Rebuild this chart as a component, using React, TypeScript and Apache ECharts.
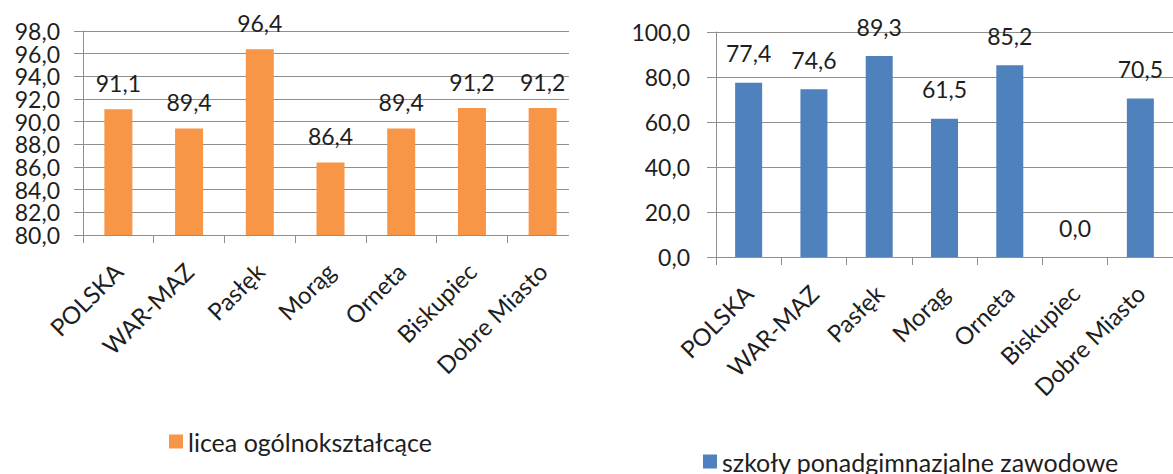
import React, { useEffect, useRef } from "react";
import * as echarts from "echarts";

const categories = ["POLSKA", "WAR-MAZ", "Pasłęk", "Morąg", "Orneta", "Biskupiec", "Dobre Miasto"];
const liceaValues = [91.1, 89.4, 96.4, 86.4, 89.4, 91.2, 91.2];
const zawodoweValues = [77.4, 74.6, 89.3, 61.5, 85.2, 0.0, 70.5];
const liceaName = "licea ogólnokształcące";
const zawodoweName = "szkoły ponadgimnazjalne zawodowe";
// left value axis: min, max, step
const liceaAxis = [80, 98, 2];
// right value axis: min, max, step
const zawodoweAxis = [0, 100, 20];

const FONT = "Lato, 'Open Sans', sans-serif";
const TEXT = "#1e1e1e";
const GRID = "#8f8f8f";
const fmt = (v: number) => v.toFixed(1).replace(".", ",");

export default function App() {
  const ref = useRef<HTMLDivElement>(null);
  useEffect(() => {
    if (!ref.current) return;
    const chart = echarts.init(ref.current, undefined, { renderer: "svg" });
    const xAxisCommon = (gridIndex: number) => ({
      type: "category" as const,
      gridIndex,
      data: categories,
      boundaryGap: true,
      axisLine: { show: true, lineStyle: { color: GRID, width: 1 } },
      axisTick: { show: true, length: 8, lineStyle: { color: GRID } },
      axisLabel: {
        rotate: 45,
        margin: 32,
        interval: 0,
        color: TEXT,
        fontFamily: FONT,
        fontSize: 24,
      },
    });
    const labelStyle = { color: TEXT, fontFamily: FONT, fontSize: 23 };
    const [lMin, lMax, lStep] = liceaAxis;
    const [rMin, rMax, rStep] = zawodoweAxis;
    // the values next to min/max on the left axis are drawn by a second, overlaid axis
    const nearEnds = (v: number) =>
      Math.abs(v - (lMin + lStep)) < 1e-6 || Math.abs(v - (lMax - lStep)) < 1e-6;
    chart.setOption({
      animation: false,
      backgroundColor: "#ffffff",
      grid: [
        { left: 83, top: 31, width: 495, height: 204 },
        { left: 716, top: 32, width: 463, height: 225 },
      ],
      xAxis: [xAxisCommon(0), xAxisCommon(1)],
      yAxis: [
        {
          type: "value",
          gridIndex: 0,
          min: lMin,
          max: lMax,
          interval: lStep,
          axisLine: { show: true, lineStyle: { color: GRID, width: 1 } },
          axisTick: { show: true, length: 9, lineStyle: { color: GRID } },
          splitLine: { show: true, lineStyle: { color: GRID, width: 1 } },
          axisLabel: {
            ...labelStyle,
            margin: 23,
            showMinLabel: true,
            showMaxLabel: true,
            formatter: (v: number) => (nearEnds(v) ? "" : fmt(v)),
          },
        },
        {
          type: "value",
          gridIndex: 0,
          position: "left",
          min: lMin,
          max: lMax,
          interval: lStep,
          axisLine: { show: false },
          axisTick: { show: true, length: 9, lineStyle: { color: GRID } },
          splitLine: { show: false },
          axisLabel: {
            ...labelStyle,
            margin: 23,
            showMinLabel: false,
            showMaxLabel: false,
            formatter: (v: number) => (nearEnds(v) ? fmt(v) : ""),
          },
        },
        {
          type: "value",
          gridIndex: 1,
          min: rMin,
          max: rMax,
          interval: rStep,
          axisLine: { show: true, lineStyle: { color: GRID, width: 1 } },
          axisTick: { show: true, length: 9, lineStyle: { color: GRID } },
          splitLine: { show: true, lineStyle: { color: GRID, width: 1 } },
          axisLabel: {
            ...labelStyle,
            margin: 26,
            showMinLabel: true,
            showMaxLabel: true,
            formatter: (v: number) => fmt(v),
          },
        },
      ],
      legend: [
        {
          data: [liceaName],
          left: 164,
          top: 424,
          icon: "rect",
          itemWidth: 14,
          itemHeight: 14,
          textStyle: { color: TEXT, fontFamily: FONT, fontSize: 25 },
        },
        {
          data: [zawodoweName],
          left: 698,
          top: 444,
          icon: "rect",
          itemWidth: 14,
          itemHeight: 14,
          textStyle: { color: TEXT, fontFamily: FONT, fontSize: 25 },
        },
      ],
      series: [
        {
          name: liceaName,
          type: "bar",
          xAxisIndex: 0,
          yAxisIndex: 0,
          data: liceaValues,
          barWidth: 28,
          itemStyle: { color: "#F79646" },
          label: {
            show: true,
            position: "top",
            distance: 15,
            ...labelStyle,
            formatter: (p: any) => fmt(p.value),
          },
        },
        {
          name: zawodoweName,
          type: "bar",
          xAxisIndex: 1,
          yAxisIndex: 2,
          data: zawodoweValues,
          barWidth: 27,
          itemStyle: { color: "#4F81BD" },
          label: {
            show: true,
            position: "top",
            distance: 18,
            ...labelStyle,
            formatter: (p: any) => fmt(p.value),
          },
        },
      ],
      graphic: [
        {
          type: "rect",
          shape: { x: 569, y: 20, width: 40, height: 232 },
          style: { fill: "#ffffff" },
          z: 100,
        },
      ],
    });
    return () => chart.dispose();
  }, []);
  return (
    <div
      ref={ref}
      style={{ position: "fixed", left: 0, top: 0, width: 1173, height: 474, background: "#fff" }}
    />
  );
}
